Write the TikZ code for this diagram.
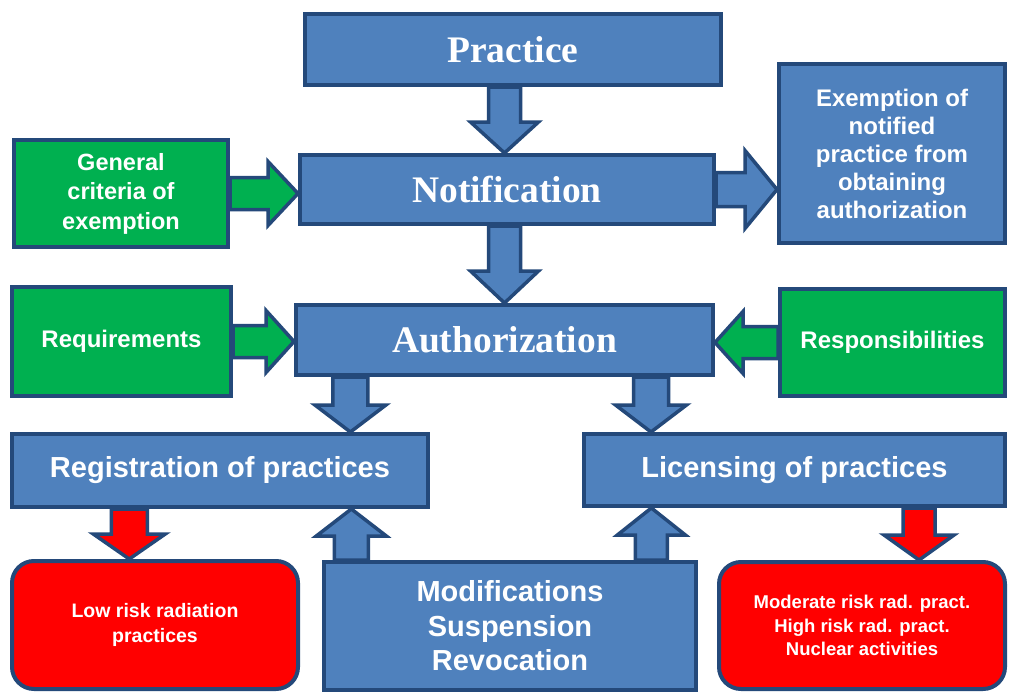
\documentclass[tikz,border=0pt]{standalone}
\usepackage{fontspec}
\setmainfont{Liberation Sans}
\newfontfamily\titleserif{Liberation Serif}
\usetikzlibrary{calc,backgrounds}
\definecolor{boxblue}{HTML}{4F81BD}
\definecolor{edgeblue}{HTML}{24497A}
\definecolor{boxgreen}{HTML}{00B050}
\definecolor{boxred}{HTML}{FF0000}
\tikzset{
  basebox/.style={draw=edgeblue, line width=4pt, text=white, align=center, inner sep=0pt},
  bluebox/.style={basebox, fill=boxblue},
  greenbox/.style={basebox, fill=boxgreen},
  redbox/.style={basebox, fill=boxred, rounded corners=22pt},
  arrowline/.style={draw=edgeblue, line width=3.5pt, line join=miter},
  titlefont/.style={font=\titleserif\bfseries\fontsize{37.5}{40}\selectfont},
}
% #1 from, #2 tip, #3 shaft half width, #4 head half width, #5 head length, #6 fill
\newcommand\blockarrow[6]{%
  \coordinate (ba-base) at ($(#2)!#5!(#1)$);
  \path[arrowline, fill=#6] ($(#1)!#3!90:(#2)$) -- ($(ba-base)!#3!90:(#2)$) --
    ($(ba-base)!#4!90:(#2)$) -- (#2) -- ($(ba-base)!#4!-90:(#2)$) --
    ($(ba-base)!#3!-90:(#2)$) -- ($(#1)!#3!-90:(#2)$) -- cycle;
}
\begin{document}
\begin{tikzpicture}[x=1pt,y=-1pt]
\useasboundingbox (0,0) rectangle (1009,693);

\node[bluebox, minimum width=416pt, minimum height=71pt, titlefont] (practice) at (513,49.5) {Practice};
\node[bluebox, minimum width=414pt, minimum height=69pt, titlefont] (notif) at (507,189.5) {Notification};
\node[bluebox, minimum width=226pt, minimum height=179pt, font=\bfseries\fontsize{24}{28}\selectfont] (exempt) at (892,153.5) {Exemption of\\notified\\practice from\\obtaining\\authorization};
\node[greenbox, minimum width=214pt, minimum height=107pt, font=\bfseries\fontsize{23.5}{29.5}\selectfont] (general) at (121,193.5) {General\\criteria of\\exemption};
\node[greenbox, minimum width=219pt, minimum height=109pt, font=\bfseries\fontsize{24}{28}\selectfont] (req) at (121.5,341.5) {Requirements};
\node[greenbox, minimum width=225pt, minimum height=107pt, font=\bfseries\fontsize{24}{28}\selectfont] (resp) at (892.5,342.5) {Responsibilities};
\node[bluebox, minimum width=417pt, minimum height=70pt, titlefont] (auth) at (504.5,340) {Authorization};
\node[bluebox, minimum width=416pt, minimum height=73pt, font=\bfseries\fontsize{29}{34}\selectfont] (reg) at (220,470.5) {Registration of practices};
\node[bluebox, minimum width=421pt, minimum height=72pt, font=\bfseries\fontsize{29}{34}\selectfont] (lic) at (794.5,470) {Licensing of practices};
\node[redbox, minimum width=286pt, minimum height=128pt, font=\bfseries\fontsize{19.5}{25}\selectfont] (low) at (155,625) {Low risk radiation\\practices};
\node[bluebox, minimum width=372pt, minimum height=128pt, font=\bfseries\fontsize{29}{34.5}\selectfont] (mods) at (510,626) {Modifications\\Suspension\\Revocation};
\node[redbox, minimum width=286pt, minimum height=127pt, font=\bfseries\fontsize{18.5}{23.5}\selectfont] (modrisk) at (862,625.5) {Moderate risk rad. pract.\\High risk rad. pract.\\Nuclear activities};

% connector anchor points
\coordinate (p1) at (practice.south -| auth.north);
\coordinate (t1) at (notif.north -| auth.north);
\coordinate (p2) at (notif.south -| auth.north);
\coordinate (t3) at (notif.east -| exempt.west);
\coordinate (t4) at (general.east -| notif.west);
\coordinate (t5) at (req.east -| auth.west);
\coordinate (t6) at (resp.west -| auth.east);
\coordinate (p7) at ($(auth.south west)!0.134!(auth.south east)$);
\coordinate (t7) at (p7 |- reg.north);
\coordinate (p8) at ($(auth.south west)!0.848!(auth.south east)$);
\coordinate (t8) at (p8 |- lic.north);
\coordinate (p9) at ($(reg.south west)!0.284!(reg.south east)$);
\coordinate (t9) at (p9 |- low.north);
\coordinate (p10) at ($(lic.south west)!0.793!(lic.south east)$);
\coordinate (t10) at (p10 |- modrisk.north);
\coordinate (p11) at ($(mods.north west)!0.078!(mods.north east)$);
\coordinate (t11) at (p11 |- reg.south);
\coordinate (p12) at ($(mods.north west)!0.876!(mods.north east)$);
\coordinate (t12) at (p12 |- lic.south);

\begin{scope}[on background layer]
\fill[white] (0,0) rectangle (1009,693);
\blockarrow{p1}{t1}{16pt}{34pt}{31pt}{boxblue}
\blockarrow{p2}{auth.north}{16pt}{34pt}{32pt}{boxblue}
\blockarrow{notif.east}{t3}{17pt}{39pt}{32pt}{boxblue}
\blockarrow{general.east}{t4}{16pt}{32pt}{30pt}{boxgreen}
\blockarrow{req.east}{t5}{16pt}{31pt}{28pt}{boxgreen}
\blockarrow{resp.west}{t6}{16pt}{31pt}{28pt}{boxgreen}
\blockarrow{p7}{t7}{17.5pt}{35.5pt}{27pt}{boxblue}
\blockarrow{p8}{t8}{17.5pt}{35.5pt}{27pt}{boxblue}
\blockarrow{p9}{t9}{18pt}{36pt}{25pt}{boxred}
\blockarrow{p10}{t10}{16pt}{35pt}{25pt}{boxred}
\blockarrow{p11}{t11}{17pt}{35pt}{27pt}{boxblue}
\blockarrow{p12}{t12}{16pt}{34pt}{27pt}{boxblue}
\end{scope}
\end{tikzpicture}
\end{document}
